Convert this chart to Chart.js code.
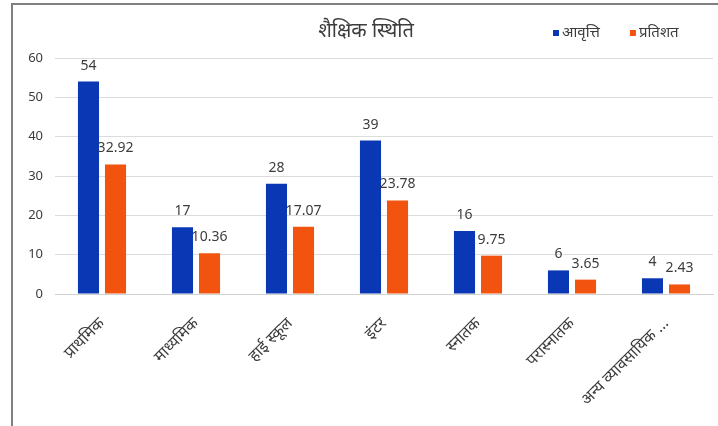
<!doctype html>
<html>
  <head>
    <meta charset="utf-8">
    <title>शैक्षिक स्थिति</title>
    <style>
      html, body {
        margin: 0;
        height: 100%;
        background: #fff;
        font-family: "Noto Sans", "Open Sans", sans-serif;
      }
      .frame {
        position: absolute;
        left: 11px;
        top: 3px;
        right: 0;
        bottom: 0;
        border-left: 2px solid #808080;
        border-top: 2px solid #808080;
      }
      .chart-box {
        position: absolute;
        left: 0;
        top: 0;
        width: 718px;
        height: 426px;
      }
    </style>
  </head>
  <body>
    <div class="frame"></div>
    <div class="chart-box">
      <canvas id="canvas"></canvas>
    </div>

    <script src="https://cdn.jsdelivr.net/npm/chart.js@4/dist/chart.umd.min.js"></script>
    <script>
      var chartTitle = 'शैक्षिक स्थिति'
      var categories = ['प्राथमिक', 'माध्यमिक', 'हाई स्कूल', 'इंटर', 'स्नातक', 'परास्नातक', 'अन्य व्यावसायिक ...']
      var frequency = [54, 17, 28, 39, 16, 6, 4]
      var percent = [32.92, 10.36, 17.07, 23.78, 9.75, 3.65, 2.43]
      var yTicks = [0, 10, 20, 30, 40, 50, 60]

      var fontFamily = '"Noto Sans", "Open Sans", sans-serif'
      var textColor = '#3c3c3c'

      // title and legend share one row at the top, so both are drawn here
      var headerPlugin = {
        id: 'header',
        afterDraw: function(chart) {
          var ctx = chart.ctx
          ctx.save()
          ctx.font = '20px ' + fontFamily
          ctx.fillStyle = textColor
          ctx.textAlign = 'center'
          ctx.textBaseline = 'middle'
          ctx.fillText(chartTitle, 366, 31)

          ctx.font = '15px ' + fontFamily
          ctx.textAlign = 'left'
          var x = 553
          chart.data.datasets.forEach(function(ds) {
            ctx.fillStyle = ds.backgroundColor
            ctx.fillRect(x, 30, 6, 6)
            ctx.fillStyle = textColor
            ctx.fillText(ds.label, x + 9, 33)
            x += 9 + ctx.measureText(ds.label).width + 30
          })
          ctx.restore()
        }
      }

      // value labels above every bar
      var valueLabels = {
        id: 'valueLabels',
        afterDatasetsDraw: function(chart) {
          var ctx = chart.ctx
          ctx.save()
          ctx.font = '14px ' + fontFamily
          ctx.fillStyle = textColor
          ctx.textAlign = 'center'
          ctx.textBaseline = 'bottom'
          chart.data.datasets.forEach(function(ds, i) {
            var meta = chart.getDatasetMeta(i)
            meta.data.forEach(function(bar, j) {
              ctx.fillText(String(ds.data[j]), bar.x, bar.y - 9)
            })
          })
          ctx.restore()
        }
      }

      var ctx = document.getElementById('canvas').getContext('2d')
      new Chart(ctx, {
        type: 'bar',
        data: {
          labels: categories,
          datasets: [
            {
              label: 'आवृत्ति',
              data: frequency,
              backgroundColor: '#0a38b4',
              categoryPercentage: 0.575,
              barPercentage: 0.78
            },
            {
              label: 'प्रतिशत',
              data: percent,
              backgroundColor: '#f2540f',
              categoryPercentage: 0.575,
              barPercentage: 0.78
            }
          ]
        },
        options: {
          responsive: true,
          maintainAspectRatio: false,
          animation: false,
          layout: {
            padding: { top: 58, right: 5, left: 0, bottom: 0 }
          },
          plugins: {
            legend: { display: false },
            tooltip: { enabled: false }
          },
          scales: {
            x: {
              grid: { display: false },
              border: { color: '#d0d0d0' },
              ticks: {
                color: textColor,
                maxRotation: 45,
                minRotation: 45,
                autoSkip: false,
                padding: 12,
                font: { family: fontFamily, size: 16 }
              },
              afterFit: function(scale) { scale.height = 132 }
            },
            y: {
              min: 0,
              max: 60,
              afterBuildTicks: function(scale) {
                scale.ticks = yTicks.map(function(v) { return { value: v } })
              },
              grid: { color: '#dcdcdc', drawTicks: false },
              border: { display: false },
              ticks: {
                color: textColor,
                padding: 12,
                font: { family: fontFamily, size: 13 }
              },
              afterFit: function(scale) { scale.width = 55 }
            }
          }
        },
        plugins: [headerPlugin, valueLabels]
      })
    </script>
  </body>
</html>
